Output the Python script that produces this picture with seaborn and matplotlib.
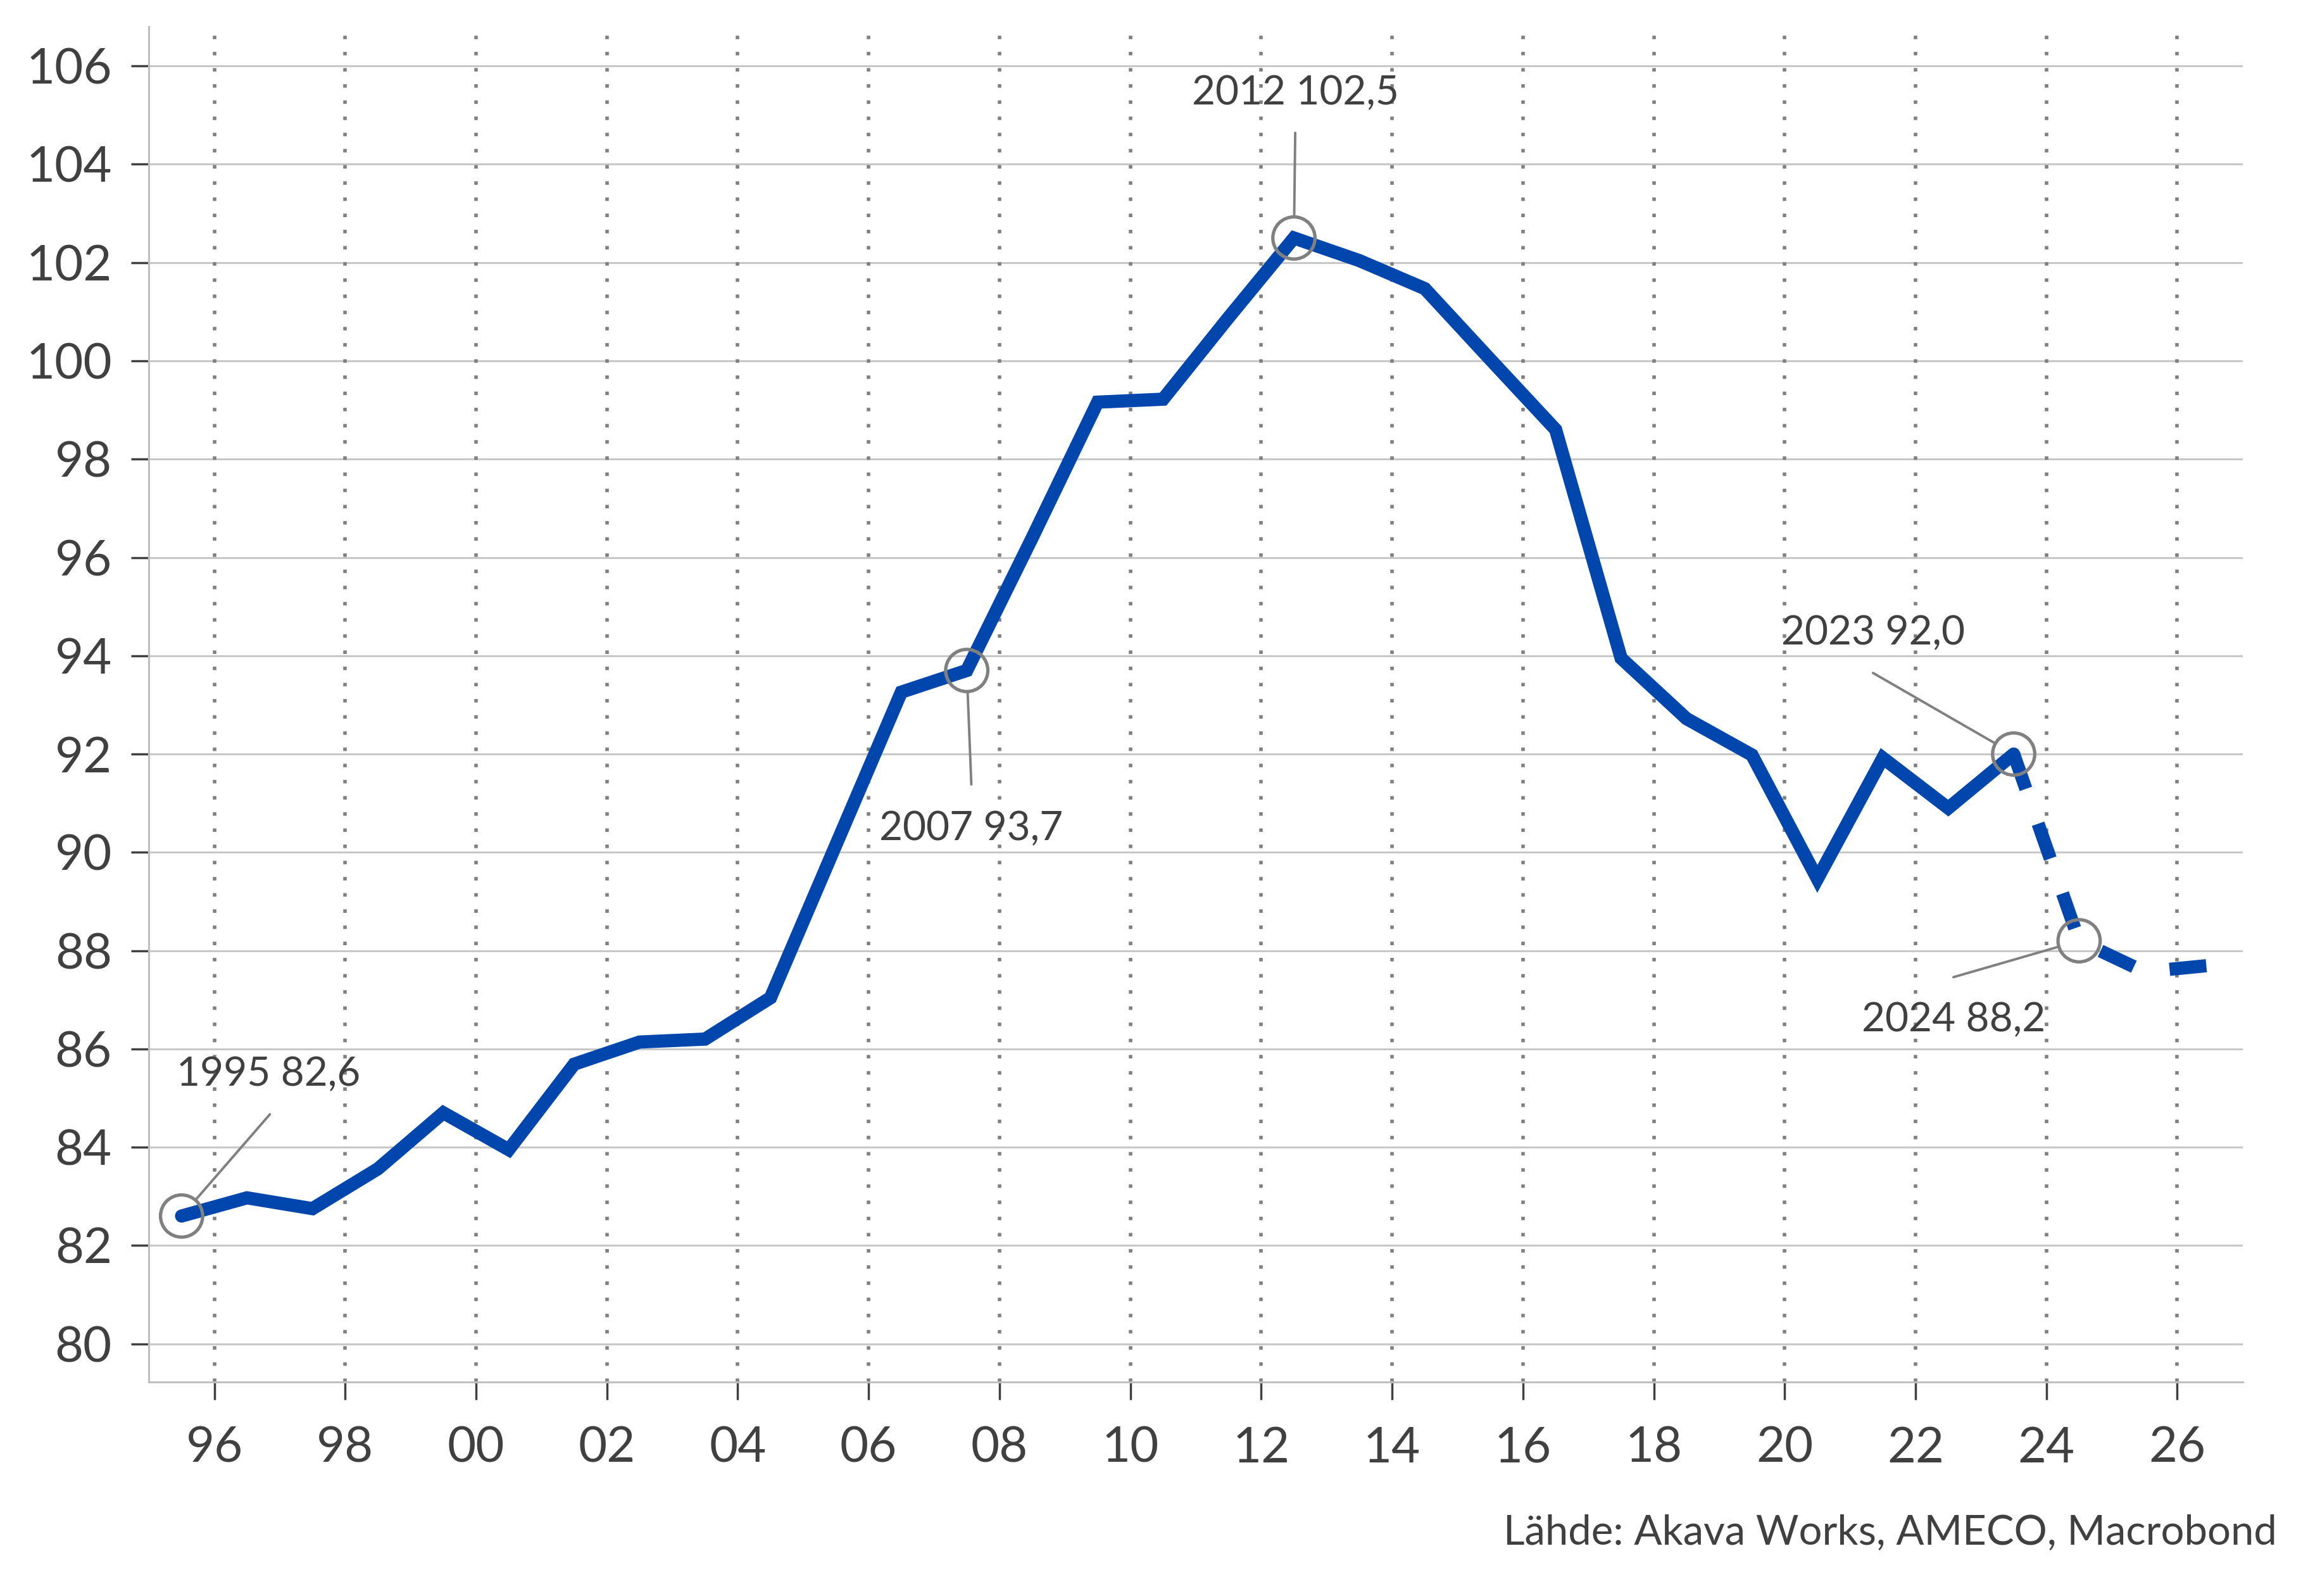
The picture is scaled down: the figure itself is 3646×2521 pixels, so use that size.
import matplotlib
matplotlib.use("Agg")
import matplotlib.pyplot as plt
import seaborn as sns
import pandas as pd
import numpy as np

# ---- data ----
years = [1995, 1996, 1997, 1998, 1999, 2000, 2001, 2002, 2003, 2004, 2005,
         2006, 2007, 2008, 2009, 2010, 2011, 2012, 2013, 2014, 2015, 2016,
         2017, 2018, 2019, 2020, 2021, 2022, 2023, 2024, 2025, 2026]
values = [82.6, 82.97, 82.75, 83.56, 84.7, 83.95, 85.69, 86.14, 86.2, 87.04, 90.15,
          93.26, 93.7, 96.4, 99.16, 99.22, 100.88, 102.5, 102.04, 101.47, 100.03, 98.6,
          93.95, 92.72, 91.98, 89.46, 91.92, 90.9, 92.0, 88.2, 87.57, 87.7]
forecast_from = 2023
annot_years = [1995, 2007, 2012, 2023, 2024]
annot_labels = ["1995 82,6", "2007 93,7", "2012 102,5", "2023 92,0", "2024 88,2"]
y_ticks = [80, 82, 84, 86, 88, 90, 92, 94, 96, 98, 100, 102, 104, 106]
x_tick_years = list(range(1996, 2027, 2))
x_tick_labels = ["96", "98", "00", "02", "04", "06", "08", "10", "12", "14",
                 "16", "18", "20", "22", "24", "26"]
source_text = "Lähde: Akava Works, AMECO, Macrobond"

# ---- styling ----
sns.set_theme(style="white")
plt.rcParams["font.family"] = ["Lato", "DejaVu Sans"]
TXT = "#404040"
BLUE = "#0046ad"
GREY = "#808080"

df = pd.DataFrame({"year": years, "value": values})
df["x"] = df["year"] + 0.5
hist = df[df["year"] <= forecast_from]
fc = df[df["year"] >= forecast_from]

fig = plt.figure(figsize=(36.46, 25.21), dpi=100)
ax = fig.add_axes([0.0645, 0.134, 0.9072, 0.8493])

# grid
for yv in y_ticks:
    ax.axhline(yv, color="#c8c8c8", lw=2.2, zorder=0)
for xv in x_tick_years:
    ax.axvline(xv, color=GREY, lw=4.0, linestyle=(0, (1.0, 3.6)), zorder=0)

sns.lineplot(data=hist, x="x", y="value", ax=ax, color=BLUE, lw=15,
             solid_joinstyle="miter", zorder=3)
sns.lineplot(data=fc, x="x", y="value", ax=ax, color=BLUE, lw=15,
             dashes=False, zorder=3)
ax.lines[-1].set_linestyle((0, (2.8, 2.8)))
ax.lines[-1].set_dash_capstyle("butt")

ann = df[df["year"].isin(annot_years)]
sns.scatterplot(data=ann, x="x", y="value", ax=ax, s=2300, marker="o",
                facecolor="none", edgecolor=GREY, linewidth=3.8, zorder=4)

# annotation layout: (text pos, leader start) in data coords
text_pos = [(1996.83, 85.48), (2007.57, 90.48), (2012.52, 105.45),
            (2021.35, 94.46), (2022.58, 86.59)]
leader_start = [(1996.85, 84.67), (2007.57, 91.38), (2012.52, 104.64),
                (2021.35, 93.65), (2022.58, 87.46)]
for (yr, lab, tp, ls) in zip(annot_years, annot_labels, text_pos, leader_start):
    row = df[df["year"] == yr].iloc[0]
    ax.annotate("", xy=(row["x"], row["value"]), xytext=ls,
                arrowprops=dict(arrowstyle="-", color=GREY, lw=2.8,
                                shrinkA=0, shrinkB=24), zorder=4)
    ax.text(tp[0], tp[1], lab, ha="center", va="center", fontsize=46,
            color=TXT)

ax.set_xlim(1995.0, 2027.0)
ax.set_ylim(79.22, 106.8)
ax.set_yticks(y_ticks)
ax.set_yticklabels([str(v) for v in y_ticks])
ax.set_xticks(x_tick_years)
ax.set_xticklabels(x_tick_labels)
ax.set_xlabel("")
ax.set_ylabel("")
ax.tick_params(axis="both", which="major", length=20, width=2.5, color=TXT,
               labelcolor=TXT, labelsize=56, direction="out",
               bottom=True, left=True)
ax.tick_params(axis="x", pad=30)
ax.tick_params(axis="y", pad=22)

for s in ["top", "right"]:
    ax.spines[s].set_visible(False)
for s in ["left", "bottom"]:
    ax.spines[s].set_color("#bfbfbf")
    ax.spines[s].set_linewidth(2.2)

fig.text(0.9866, 0.04, source_text, ha="right", va="center", fontsize=47,
         color=TXT)

fig.savefig("out.png", dpi=100)
